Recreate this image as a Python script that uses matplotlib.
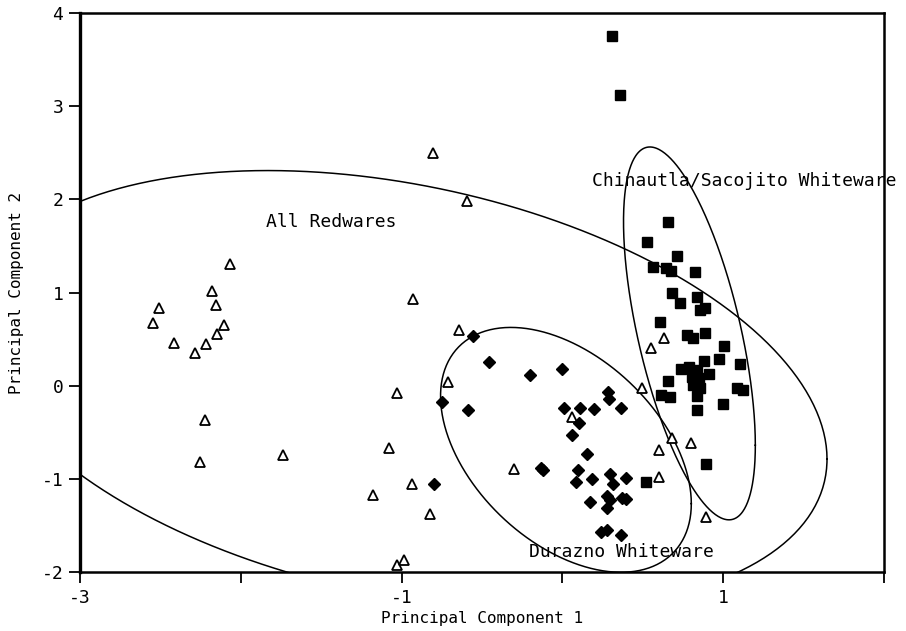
import numpy as np
import matplotlib
matplotlib.use("Agg")
import matplotlib.pyplot as plt

plt.rcParams['font.family'] = ['DejaVu Sans Mono']

# All Redwares (open triangles)
red_x = [-2.067, -2.179, -2.154, -2.509, -2.546, -2.104, -2.148, -2.216, -2.415, -2.285,
         -2.223, -2.254, -1.738, -0.805, -0.593, -0.929, -0.643, -0.711, -1.029, -1.078,
         -0.935, -1.178, -0.823, -1.029, -0.985, 0.060, -0.301, 0.495, 0.632, 0.551,
         0.682, 0.800, 0.601, 0.601, 0.893]
red_y = [1.307, 1.017, 0.867, 0.835, 0.674, 0.652, 0.556, 0.448, 0.459, 0.352,
         -0.367, -0.818, -0.742, 2.498, 1.983, 0.931, 0.599, 0.041, -0.077, -0.667,
         -1.054, -1.172, -1.376, -1.923, -1.869, -0.335, -0.893, -0.024, 0.513, 0.406,
         -0.560, -0.614, -0.689, -0.979, -1.408]

# Durazno Whiteware (filled diamonds)
dur_x = [-0.556, -0.457, -0.201, -0.002, -0.749, -0.587, -0.799, 0.284, 0.290, 0.010,
         0.109, 0.197, 0.364, 0.103, 0.060, 0.153, -0.133, -0.121, 0.097, 0.184,
         0.296, 0.396, 0.085, 0.315, 0.172, 0.277, 0.296, 0.371, 0.396, 0.277,
         0.240, 0.277, 0.364]
dur_y = [0.534, 0.255, 0.116, 0.180, -0.174, -0.260, -1.054, -0.067, -0.142, -0.238,
         -0.238, -0.249, -0.238, -0.399, -0.528, -0.732, -0.882, -0.903, -0.903, -1.000,
         -0.946, -0.989, -1.032, -1.054, -1.247, -1.182, -1.225, -1.204, -1.215, -1.311,
         -1.569, -1.547, -1.601]

# Chinautla/Sacojito Whiteware (filled squares)
chi_x = [0.308, 0.358, 0.657, 0.526, 0.713, 0.563, 0.644, 0.675, 0.825, 0.682,
         0.731, 0.837, 0.856, 0.887, 0.607, 0.775, 0.812, 0.887, 1.005, 0.974,
         0.881, 1.104, 0.738, 0.787, 0.837, 0.912, 0.849, 0.806, 0.657, 0.812,
         0.856, 0.613, 0.669, 0.837, 1.086, 1.123, 0.999, 0.837, 0.893, 0.520]
chi_y = [3.753, 3.120, 1.758, 1.543, 1.393, 1.275, 1.264, 1.232, 1.221, 0.996,
         0.888, 0.953, 0.813, 0.835, 0.685, 0.545, 0.513, 0.567, 0.427, 0.288,
         0.266, 0.234, 0.180, 0.202, 0.170, 0.127, 0.084, 0.094, 0.052, 0.009,
         -0.024, -0.099, -0.120, -0.109, -0.024, -0.045, -0.195, -0.260, -0.839, -1.032]

# ellipses: centre and covariance-like matrix (data units)
ell_red = dict(c=(-1.0, -0.047), s=[[7.0, -1.96], [-1.96, 5.55]])
ell_dur = dict(c=(0.022, -0.689), s=[[0.608, -0.45], [-0.45, 1.727]])
ell_chi = dict(c=(0.790, 0.561), s=[[0.168, -0.492], [-0.492, 4.004]])

fig = plt.figure(figsize=(9.06, 6.31), dpi=100)
ax = fig.add_axes([0.0883, 0.0935, 0.8874, 0.8859])

t = np.linspace(0, 2 * np.pi, 400)
for e in (ell_red, ell_dur, ell_chi):
    a = np.linalg.cholesky(np.array(e['s']))
    pts = a @ np.vstack([np.cos(t), np.sin(t)])
    ax.plot(e['c'][0] + pts[0], e['c'][1] + pts[1], color='black', lw=1.1)

ax.plot(red_x, red_y, linestyle='none', marker='^', ms=7, mfc='white', mec='black', mew=1.3)
ax.plot(dur_x, dur_y, linestyle='none', marker='D', ms=6.5, mfc='black', mec='black')
ax.plot(chi_x, chi_y, linestyle='none', marker='s', ms=7.5, mfc='black', mec='black')

ax.text(-1.44, 1.757, 'All Redwares', fontsize=13, ha='center', va='center')
ax.text(0.184, 2.197, 'Chinautla/Sacojito Whiteware', fontsize=13, ha='left', va='center',
        clip_on=False)
ax.text(-0.208, -1.78, 'Durazno Whiteware', fontsize=13, ha='left', va='center')

ax.set_xlim(-3, 2)
ax.set_ylim(-2, 4)
ax.set_xticks([-3, -2, -1, 0, 1, 2])
ax.set_xticklabels(['-3', '', '-1', '', '1', ''])
ax.set_yticks([-2, -1, 0, 1, 2, 3, 4])
ax.set_yticklabels(['-2', '-1', '0', '1', '2', '3', '4'])
ax.tick_params(direction='out', length=8, width=1.3, labelsize=13, pad=4)
for side in ['top', 'right', 'bottom']:
    ax.spines[side].set_linewidth(1.8)
ax.spines['left'].set_linewidth(2.4)

ax.set_xlabel('Principal Component 1', fontsize=11.5, labelpad=3)
ax.set_ylabel('Principal Component 2', fontsize=11.5, labelpad=13)

fig.savefig('out.png', dpi=100)
